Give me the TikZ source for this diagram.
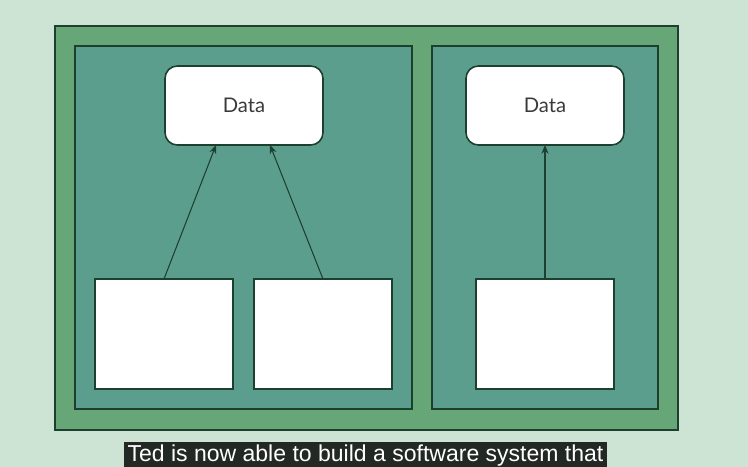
\documentclass[tikz,border=0pt]{standalone}
\usepackage{fontspec}
\setmainfont{Lato}
\newfontfamily\capfont{Liberation Sans}
\usepackage{tikz}
\usetikzlibrary{positioning,arrows.meta,calc}

\definecolor{bgmint}{HTML}{CDE4D5}
\definecolor{outergreen}{HTML}{66A677}
\definecolor{panelteal}{HTML}{5C9E8E}
\definecolor{edgegreen}{HTML}{1D3F2E}
\definecolor{textgray}{HTML}{3A3A3A}
\definecolor{capbg}{HTML}{222823}

\begin{document}
\begin{tikzpicture}[
        x=0.02cm, y=-0.02cm,
        panel/.style={draw=edgegreen, line width=0.9pt},
        databox/.style={draw=edgegreen, line width=0.9pt, fill=white, rounded corners=7pt, minimum width=3.16cm, minimum height=1.58cm, inner sep=0pt, outer sep=0pt, font=\fontsize{11.5}{13}\selectfont, text=textgray},
        blank/.style={draw=edgegreen, line width=0.9pt, fill=white, minimum width=2.76cm, minimum height=2.2cm, inner sep=0pt, outer sep=0pt},
        line/.style={-{Stealth[length=5pt,width=4pt]}, draw=edgegreen, line width=0.6pt}
    ]
        % background and frames
        \useasboundingbox (0,0) rectangle (748,467);
        \fill[bgmint] (0,0) rectangle (748,467);
        \filldraw[panel, fill=outergreen] (55,26) rectangle (678,430);
        \filldraw[panel, fill=panelteal] (75,46) rectangle (412,409);
        \filldraw[panel, fill=panelteal] (432,46) rectangle (658,409);

        \node[databox] (dataL) at (244,105.5) {Data};
        \node[databox] (dataR) at (545,105.5) {Data};
        \node[blank] (compA) at (164,334) {};
        \node[blank] (compB) at (323,334) {};
        \node[blank] (compC) at (545,334) {};

        \draw[line] (compA.north) -- ([xshift=-0.56cm]dataL.south);
        \draw[line] (compB.north) -- ([xshift=0.52cm]dataL.south);
        \draw[line] (compC.north) -- (dataR.south);

        \node[fill=capbg, text=white, font=\capfont\fontsize{13.1}{15}\selectfont, inner xsep=2pt, inner ysep=1.5pt, anchor=south] (caption) at (365.5,469) {Ted is now able to build a software system that};
    \end{tikzpicture}
\end{document}
